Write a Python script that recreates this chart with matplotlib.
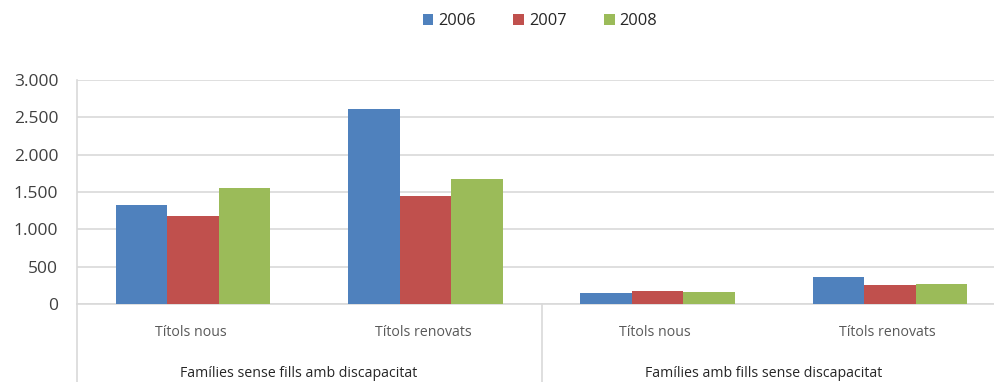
import numpy as np
import matplotlib
matplotlib.use('Agg')
import matplotlib.pyplot as plt

plt.rcParams['font.family'] = ['Open Sans', 'DejaVu Sans']

# data
years = ['2006', '2007', '2008']
categories = ['Títols nous', 'Títols renovats', 'Títols nous', 'Títols renovats']
groups = ['Famílies sense fills amb discapacitat', 'Famílies amb fills sense discapacitat']
values_2006 = [1330, 2612, 143, 357]
values_2007 = [1174, 1446, 179, 259]
values_2008 = [1558, 1674, 161, 268]
yticks = [0, 500, 1000, 1500, 2000, 2500, 3000]
ytick_labels = ['0', '500', '1.000', '1.500', '2.000', '2.500', '3.000']

colors = ['#4F81BD', '#C0504D', '#9BBB59']
grid_col = '#d9d9d9'

W, H = 994, 382
fig = plt.figure(figsize=(W / 100, H / 100), dpi=100)
# axis extends a bit past the right edge, like the original
ax = fig.add_axes([77 / W, (H - 304) / H, (1006 - 77) / W, 224 / H])

x = np.arange(len(categories))
bw = 0.222
series = [values_2006, values_2007, values_2008]
for i, (vals, yr) in enumerate(zip(series, years)):
    ax.bar(x + (i - 1) * bw, vals, width=bw, color=colors[i], label=yr, zorder=3)

ax.set_xlim(-0.5, len(categories) - 0.5)
ax.set_ylim(0, 3000)
ax.set_yticks(yticks)
ax.set_yticklabels(ytick_labels, fontsize=12.5, color='#404040')
ax.tick_params(axis='y', length=0, pad=13.5)
ax.set_xticks([])
ax.grid(axis='y', color=grid_col, linewidth=1.2, zorder=0)
for s in ['top', 'right']:
    ax.spines[s].set_visible(False)
ax.spines['left'].set_color(grid_col)
ax.spines['left'].set_linewidth(1.2)
ax.spines['bottom'].set_color(grid_col)
ax.spines['bottom'].set_linewidth(1.2)

# category labels and group labels under the axis
for xi, lab in zip(x, categories):
    ax.text(xi - 0.01, -385, lab, ha='center', va='center', fontsize=10.2, color='#595959', clip_on=False)
for gi, g in enumerate(groups):
    ax.text(gi * 2 + 0.455, -930, g, ha='center', va='center', fontsize=10.2, color='#262626', clip_on=False)

# vertical separators below the axis
ax.plot([-0.5, -0.5], [0, -1050], color=grid_col, lw=1.2, clip_on=False)
ax.plot([1.5, 1.5], [0, -1050], color=grid_col, lw=1.2, clip_on=False)

fig.legend(loc='upper center', bbox_to_anchor=(540 / W, 1.005), ncol=3, frameon=False,
           fontsize=11.8, handlelength=0.65, handleheight=0.65, columnspacing=2.3,
           handletextpad=0.3, labelcolor='#262626')

fig.savefig('out.png', dpi=100)
